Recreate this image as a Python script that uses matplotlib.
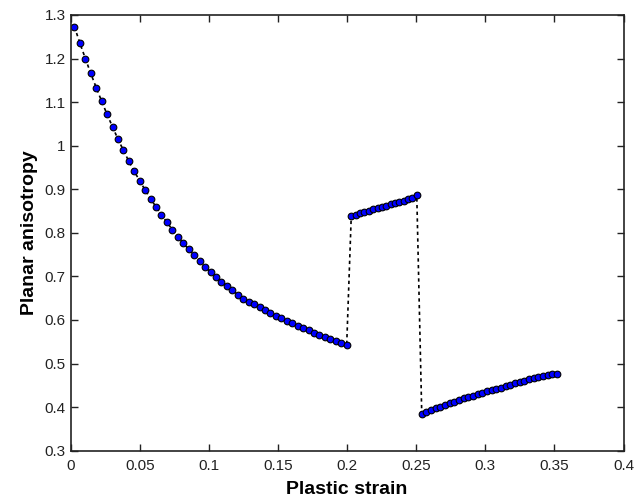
import matplotlib
matplotlib.use("Agg")
import matplotlib.pyplot as plt

# Segment 1 (0 - 0.2)
x1 = [0.0027, 0.0066, 0.0106, 0.0145, 0.0185, 0.0224, 0.0263, 0.0303, 0.0342, 0.0382,
      0.0421, 0.0460, 0.0500, 0.0539, 0.0579, 0.0618, 0.0657, 0.0697, 0.0736, 0.0776,
      0.0815, 0.0854, 0.0894, 0.0933, 0.0973, 0.1012, 0.1051, 0.1091, 0.1130, 0.1170,
      0.1209, 0.1248, 0.1288, 0.1327, 0.1367, 0.1406, 0.1445, 0.1485, 0.1524, 0.1564,
      0.1603, 0.1642, 0.1682, 0.1721, 0.1761, 0.1800, 0.1839, 0.1879, 0.1918, 0.1958,
      0.1997]
y1 = [1.273, 1.236, 1.200, 1.166, 1.133, 1.102, 1.072, 1.043, 1.015, 0.989,
      0.964, 0.941, 0.919, 0.898, 0.878, 0.859, 0.841, 0.824, 0.807, 0.791,
      0.776, 0.762, 0.748, 0.735, 0.722, 0.710, 0.699, 0.688, 0.678, 0.668,
      0.658, 0.649, 0.642, 0.636, 0.629, 0.623, 0.616, 0.610, 0.604, 0.598,
      0.593, 0.587, 0.582, 0.576, 0.571, 0.566, 0.561, 0.556, 0.552, 0.547,
      0.543]

# Segment 2 (0.2 - 0.25)
x2 = [0.2030, 0.2062, 0.2093, 0.2125, 0.2156, 0.2188, 0.2220, 0.2251, 0.2283, 0.2314,
      0.2346, 0.2378, 0.2409, 0.2441, 0.2472, 0.2504]
y2 = [0.839, 0.842, 0.845, 0.848, 0.851, 0.854, 0.857, 0.860, 0.862, 0.865,
      0.868, 0.871, 0.874, 0.877, 0.881, 0.886]

# Segment 3 (0.25 - 0.35)
x3 = [0.2540, 0.2574, 0.2607, 0.2641, 0.2675, 0.2709, 0.2742, 0.2776, 0.2810, 0.2843,
      0.2877, 0.2911, 0.2944, 0.2978, 0.3012, 0.3046, 0.3079, 0.3113, 0.3147, 0.3180,
      0.3214, 0.3248, 0.3281, 0.3315, 0.3349, 0.3383, 0.3416, 0.3450, 0.3484, 0.3518]
y3 = [0.3845, 0.3887, 0.3929, 0.3970, 0.4010, 0.4050, 0.4089, 0.4127, 0.4163, 0.4198,
      0.4232, 0.4265, 0.4297, 0.4328, 0.4359, 0.4389, 0.4418, 0.4447, 0.4485, 0.4515,
      0.4545, 0.4575, 0.4605, 0.4635, 0.4660, 0.4685, 0.4710, 0.4730, 0.4750, 0.4770]

xs = x1 + x2 + x3
ys = y1 + y2 + y3

xticks = [0, 0.05, 0.1, 0.15, 0.2, 0.25, 0.3, 0.35, 0.4]
xtick_labels = ["0", "0.05", "0.1", "0.15", "0.2", "0.25", "0.3", "0.35", "0.4"]
yticks = [0.3, 0.4, 0.5, 0.6, 0.7, 0.8, 0.9, 1.0, 1.1, 1.2, 1.3]
ytick_labels = ["0.3", "0.4", "0.5", "0.6", "0.7", "0.8", "0.9", "1", "1.1", "1.2", "1.3"]

plt.rcParams['font.family'] = ['Liberation Sans', 'DejaVu Sans']

fig = plt.figure(figsize=(6.34, 4.98), dpi=100)
ax = fig.add_axes([0.1115, 0.095, 0.872, 0.875])

ax.plot(xs, ys, color='black', linestyle=(0, (2.0, 2.0)), linewidth=1.2,
        marker='o', markersize=4.8, markerfacecolor='#0000ff',
        markeredgecolor='black', markeredgewidth=0.8)

ax.set_xlim(0, 0.4)
ax.set_ylim(0.3, 1.3)
ax.set_xticks(xticks)
ax.set_xticklabels(xtick_labels)
ax.set_yticks(yticks)
ax.set_yticklabels(ytick_labels)
ax.tick_params(direction='in', top=True, right=True, length=5, width=1,
               labelsize=11, colors='#222222')
ax.tick_params(axis='x', pad=6)
ax.tick_params(axis='y', pad=3.5)
for s in ax.spines.values():
    s.set_linewidth(1.2)
    s.set_color('#222222')

ax.set_xlabel("Plastic strain", fontsize=14, fontweight='bold', labelpad=6)
ax.set_ylabel("Planar anisotropy", fontsize=14, fontweight='bold', labelpad=4.5)

fig.savefig("out.png", dpi=100)
